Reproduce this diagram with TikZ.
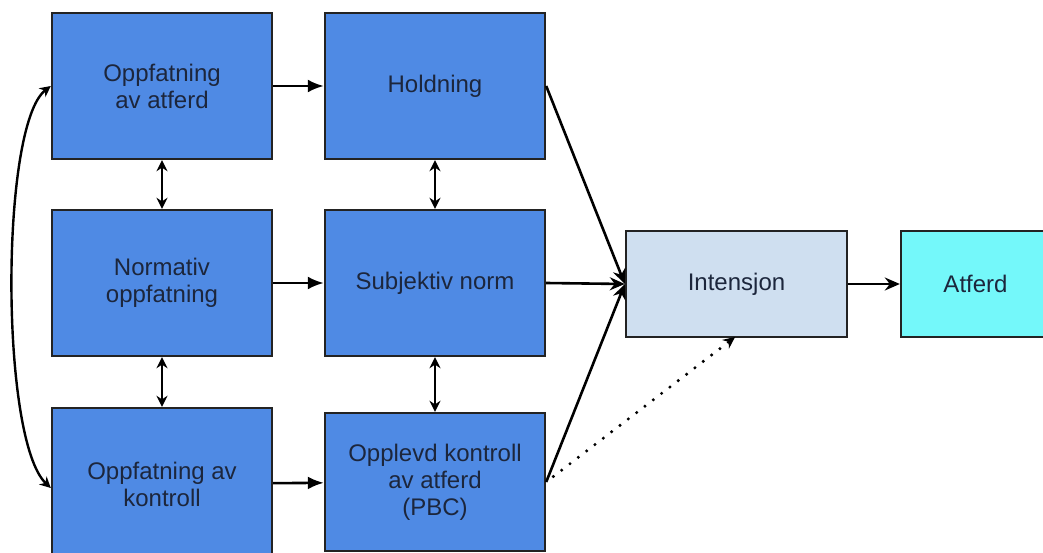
\documentclass[tikz,border=0pt]{standalone}
\usepackage{fontspec}
\setmainfont{Liberation Sans}
\usepackage{tikz}
\usetikzlibrary{positioning}
\usetikzlibrary{arrows.meta}

\definecolor{blokkblaa}{RGB}{79,138,228}
\definecolor{lysblaa}{RGB}{207,223,240}
\definecolor{turkis}{RGB}{116,248,250}
\definecolor{kant}{RGB}{35,35,35}
\definecolor{tekst}{RGB}{28,38,60}

\begin{document}
\begin{tikzpicture}[x=1pt,y=-1pt,
	boks/.style={rectangle,draw=kant,line width=2.4pt,fill=blokkblaa,text=tekst,
		minimum width=220pt,minimum height=146pt,align=center,inner sep=0pt,
		font=\fontsize{24}{27}\selectfont},
	pil/.style={line width=2.6pt,-{Latex[length=16pt,width=13pt]}},
	inn/.style={line width=2.6pt,-{Stealth[length=15pt,width=13pt,inset=5pt]}},
	dobbel/.style={line width=2.4pt,{Stealth[length=11pt,width=11pt]}-{Stealth[length=11pt,width=11pt]}},
	prikk/.style={line width=3.4pt,line cap=round,dash pattern=on 0pt off 10.5pt,
		-{Stealth[length=12pt,width=11pt]}}]
	\clip (0,0) rectangle (1043,553);
	\node[boks] (a) at (162,86) {Oppfatning\\av atferd};
	\node[boks] (b) at (435,86) {Holdning};
	\node[boks] (c) at (162,283) {Normativ\\oppfatning};
	\node[boks] (d) at (435,283) {Subjektiv norm};
	\node[boks,minimum height=152pt] (e) at (162,484) {Oppfatning av\\kontroll};
	\node[boks,minimum height=138pt] (f) at (435,482) {Opplevd kontroll\\av atferd\\(PBC)};
	\node[boks,fill=lysblaa,minimum width=221pt,minimum height=106pt] (g) at (736.5,284) {Intensjon};
	\node[boks,fill=turkis,minimum width=149pt,minimum height=106pt] (h) at (975.5,284) {Atferd};

	\draw[pil] (a) -- (b);
	\draw[pil] (c) -- (d);
	\draw[pil] (e) -- (f);
	\draw[dobbel] (a) -- (c);
	\draw[dobbel] (c) -- (e);
	\draw[dobbel] (b) -- (d);
	\draw[dobbel] (d.south) -- (f.north);
	\draw[inn] (b.east) -- (g.west);
	\draw[inn] (d.east) -- (g.west);
	\draw[inn] (f.east) -- (g.west);
	\draw[inn] (g) -- (h);
	\draw[prikk,shorten <=9pt,shorten >=-2pt] (f.east) -- ([xshift=-3pt]g.south);
	\draw[dobbel] (a.west) .. controls (0,125) and (0,440) .. ([yshift=-4pt]e.west);
\end{tikzpicture}
\end{document}
